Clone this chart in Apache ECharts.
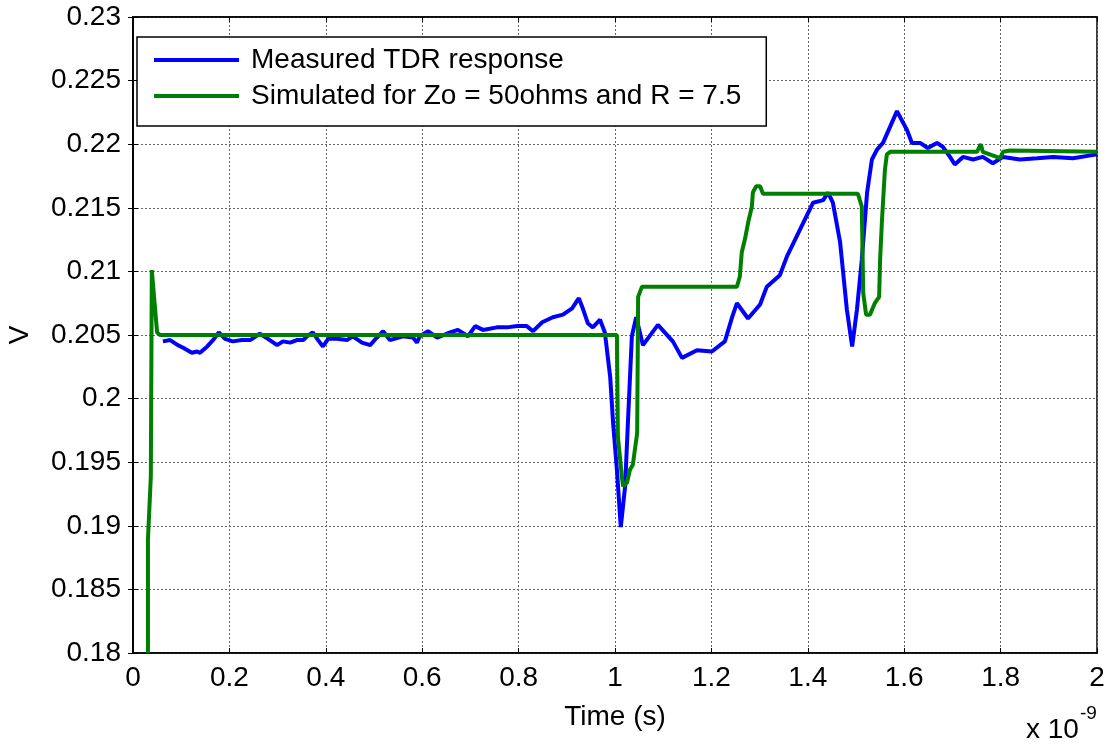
<!DOCTYPE html>
<html>
<head>
<meta charset="utf-8">
<script src="https://cdn.jsdelivr.net/npm/echarts@6/dist/echarts.min.js"></script>
<style>html,body{margin:0;padding:0;background:#fff}#c{width:1112px;height:747px}</style>
</head>
<body>
<div id="c"></div>
<script>
// Time in units of 1e-9 s
var measuredTime = [0.062,0.077,0.093,0.104,0.122,0.133,0.139,0.154,0.166,0.178,0.191,0.207,0.226,0.243,0.263,0.280,0.299,0.311,0.326,0.340,0.353,0.361,0.373,0.384,0.394,0.405,0.423,0.444,0.456,0.475,0.492,0.506,0.519,0.533,0.560,0.581,0.589,0.595,0.612,0.631,0.658,0.674,0.695,0.710,0.726,0.755,0.776,0.797,0.817,0.830,0.849,0.871,0.892,0.911,0.925,0.934,0.944,0.954,0.969,0.979,0.990,0.996,1.004,1.012,1.021,1.027,1.035,1.044,1.058,1.089,1.120,1.139,1.170,1.201,1.228,1.243,1.253,1.276,1.301,1.315,1.342,1.357,1.384,1.411,1.432,1.442,1.452,1.467,1.481,1.492,1.502,1.512,1.523,1.533,1.544,1.556,1.585,1.606,1.616,1.633,1.649,1.668,1.680,1.695,1.705,1.722,1.743,1.763,1.784,1.805,1.840,1.876,1.909,1.950,2.0];
var measuredV = [0.2045,0.2046,0.2042,0.2040,0.2036,0.2037,0.2036,0.2041,0.2046,0.2052,0.2047,0.2045,0.2046,0.2046,0.2051,0.2047,0.2042,0.2045,0.2044,0.2046,0.2046,0.2049,0.2052,0.2046,0.2041,0.2047,0.2047,0.2046,0.2049,0.2044,0.2042,0.2048,0.2053,0.2046,0.2049,0.2048,0.2044,0.2049,0.2053,0.2048,0.2052,0.2054,0.2049,0.2057,0.2054,0.2056,0.2056,0.2057,0.2057,0.2053,0.2060,0.2064,0.2066,0.2071,0.2079,0.2070,0.2059,0.2056,0.2062,0.2052,0.2017,0.1981,0.1944,0.1899,0.1931,0.1983,0.2049,0.2064,0.2042,0.2058,0.2045,0.2032,0.2038,0.2037,0.2045,0.2064,0.2075,0.2063,0.2074,0.2088,0.2097,0.2112,0.2133,0.2154,0.2156,0.2162,0.2154,0.2123,0.2070,0.2041,0.2070,0.2109,0.2162,0.2188,0.2196,0.2201,0.2226,0.2211,0.2201,0.2201,0.2197,0.2201,0.2198,0.2190,0.2184,0.2190,0.2188,0.2190,0.2185,0.2190,0.2188,0.2189,0.2190,0.2189,0.2192];

var simTime = [0.031,0.031,0.037,0.039,0.050,0.056,1.004,1.006,1.015,1.017,1.025,1.031,1.037,1.046,1.048,1.056,1.253,1.259,1.263,1.270,1.276,1.284,1.286,1.293,1.301,1.307,1.504,1.512,1.515,1.521,1.529,1.539,1.548,1.550,1.554,1.560,1.564,1.571,1.751,1.759,1.763,1.799,1.805,1.820,2.0];
var simV = [0.180,0.1889,0.1939,0.2101,0.2052,0.2050,0.2050,0.1970,0.1936,0.1931,0.1934,0.1944,0.1948,0.1973,0.2080,0.2088,0.2088,0.2096,0.2115,0.2126,0.2138,0.2151,0.2162,0.2167,0.2167,0.2161,0.2161,0.2151,0.2083,0.2066,0.2066,0.2075,0.2080,0.2109,0.2141,0.2180,0.2192,0.2194,0.2194,0.2200,0.2194,0.2189,0.2194,0.2195,0.2194];

var seriesNames = ['Measured TDR response', 'Simulated for Zo = 50ohms and R = 7.5'];
var xLabel = 'Time (s)';
var yLabel = 'V';

function zip(a, b) { return a.map(function (v, i) { return [v, b[i]]; }); }

var FONT = 'Liberation Sans, Arial, sans-serif';
var FS = 28;
var chart = echarts.init(document.getElementById('c'), null, {renderer: 'canvas'});
var xCommon = {type: 'value', min: 0, max: 2, interval: 0.2};
var yCommon = {type: 'value', min: 0.18, max: 0.23, interval: 0.005};
chart.setOption({
  animation: false,
  backgroundColor: '#fff',
  grid: {left: 133, right: 15, top: 17, bottom: 94, containLabel: false, outerBoundsMode: 'none',
         show: true, borderColor: '#000', borderWidth: 1.5, backgroundColor: 'transparent'},
  legend: {
    orient: 'vertical', left: 137, top: 37,
    backgroundColor: '#fff', borderColor: '#000', borderWidth: 1.5,
    padding: [9, 25, 16, 17], itemGap: 8,
    icon: 'rect', itemWidth: 85, itemHeight: 4,
    textStyle: {fontFamily: FONT, fontSize: FS, color: '#000', padding: [0,0,0,7]},
    data: seriesNames
  },
  xAxis: [
    Object.assign({}, xCommon, {
      position: 'bottom',
      name: xLabel, nameLocation: 'middle', nameGap: 50,
      nameTextStyle: {fontFamily: FONT, fontSize: FS, color: '#000'},
      axisLine: {show: true, lineStyle: {color: '#000', width: 1.5}},
      axisTick: {show: true, inside: true, length: 5, lineStyle: {color: '#000'}},
      axisLabel: {fontFamily: FONT, fontSize: FS, color: '#000', margin: 11,
        formatter: function (v) { return String(parseFloat(v.toFixed(1))); }},
      splitLine: {show: true, lineStyle: {color: '#666', type: [2, 2], width: 1}}
    }),
    Object.assign({}, xCommon, {
      position: 'top',
      axisLine: {show: true, lineStyle: {color: '#000', width: 1.5}},
      axisTick: {show: true, inside: true, length: 5, lineStyle: {color: '#000'}},
      axisLabel: {show: false}, splitLine: {show: false}
    })
  ],
  yAxis: [
    Object.assign({}, yCommon, {
      position: 'left',
      name: yLabel, nameLocation: 'middle', nameGap: 99,
      nameTextStyle: {fontFamily: FONT, fontSize: FS, color: '#000'},
      axisLine: {show: true, lineStyle: {color: '#000', width: 1.5}},
      axisTick: {show: true, inside: true, length: 5, lineStyle: {color: '#000'}},
      axisLabel: {fontFamily: FONT, fontSize: FS, color: '#000', margin: 12,
        formatter: function (v) { return String(parseFloat(v.toFixed(3))); }},
      splitLine: {show: true, lineStyle: {color: '#666', type: [2, 2], width: 1}}
    }),
    Object.assign({}, yCommon, {
      position: 'right',
      axisLine: {show: true, lineStyle: {color: '#000', width: 1.5}},
      axisTick: {show: true, inside: true, length: 5, lineStyle: {color: '#000'}},
      axisLabel: {show: false}, splitLine: {show: false}
    })
  ],
  graphic: [
    {type: 'text', left: 1026, top: 716, style: {text: 'x 10', fontFamily: FONT, fontSize: FS, fill: '#000'}},
    {type: 'text', left: 1080, top: 704, style: {text: '-9', fontFamily: FONT, fontSize: 19, fill: '#000'}}
  ],
  series: [
    {name: seriesNames[0], type: 'line', xAxisIndex: 0, yAxisIndex: 0, showSymbol: false, symbol: 'none',
     color: '#0000ff', lineStyle: {color: '#0000ff', width: 4}, data: zip(measuredTime, measuredV), clip: true},
    {name: seriesNames[1], type: 'line', xAxisIndex: 0, yAxisIndex: 0, showSymbol: false, symbol: 'none',
     color: '#008000', lineStyle: {color: '#008000', width: 4}, data: zip(simTime, simV), clip: true}
  ]
});
</script>
</body>
</html>
